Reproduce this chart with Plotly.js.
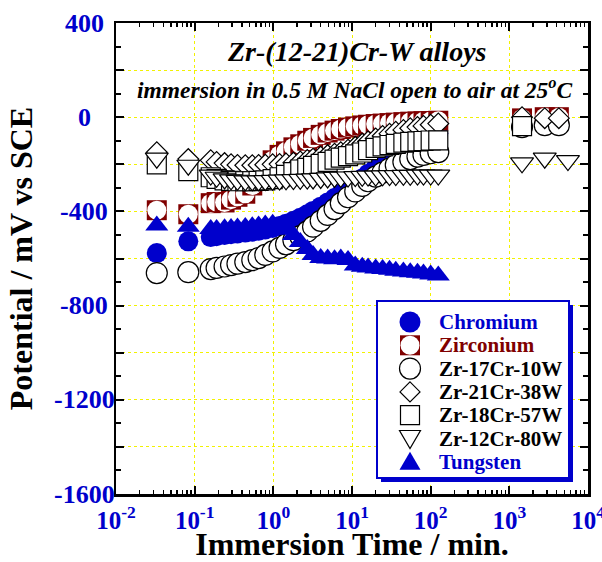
<!DOCTYPE html>
<html>
<head>
<meta charset="utf-8">
<script src="https://cdn.plot.ly/plotly-3.0.1.min.js"></script>
<style>html,body{margin:0;padding:0;background:#fff;}#chart{width:602px;height:562px;}</style>
</head>
<body>
<div id="chart"></div>
<script>
// ---------- data (time in min, potential in mV vs SCE) ----------
var timeMain = [0.033, 0.083, 0.16, 0.19, 0.24, 0.29, 0.35, 0.44, 0.54, 0.65, 0.79, 0.98, 1.2, 1.45, 1.8, 2.2, 2.7, 3.2, 4.0, 4.9, 6.0, 7.2, 8.9, 11, 13.5, 16, 20, 24.5, 30, 36, 45, 55, 68, 81, 100, 125];

var chromium = [-577, -527, -509, -505, -500, -497, -494, -490, -486, -482, -477, -470, -462, -452, -440, -427, -412, -398, -380, -362, -343, -325, -305, -283, -260, -240, -215, -192, -170, -152, -132, -116, -100, -90, -78, -68];

var zirconium = [-395, -412, -365, -360, -362, -350, -338, -325, -290, -250, -215, -183, -160, -145, -128, -115, -100, -88, -75, -65, -57, -50, -44, -39, -35, -32, -29, -27, -25, -23, -21, -19, -18, -17, -16, -15];

var zr17cr10w = [-662, -658, -645, -640, -634, -628, -622, -615, -607, -598, -585, -570, -555, -540, -522, -505, -485, -465, -440, -415, -390, -365, -340, -315, -292, -272, -252, -235, -218, -203, -190, -178, -167, -160, -153, -148];

var zr21cr38w = [-149, -178, -183, -190, -195, -200, -203, -204, -204, -203, -202, -200, -199, -197, -193, -188, -182, -176, -168, -161, -155, -149, -138, -126, -113, -103, -90, -80, -70, -62, -54, -47, -42, -37, -32, -27];

var zr18cr57w = [-200, -229, -255, -262, -268, -270, -272, -272, -272, -270, -268, -263, -255, -245, -233, -222, -215, -207, -198, -190, -180, -172, -165, -158, -150, -140, -130, -124, -118, -113, -108, -105, -103, -101, -99, -98];

var zr12cr80w = [-174, -204, -246, -255, -262, -266, -268, -270, -270, -270, -269, -268, -267, -266, -265, -264, -263, -262, -260, -258, -256, -255, -254, -252, -251, -250, -250, -249, -248, -248, -247, -247, -246, -246, -246, -246];

var tungsten = [-460, -465, -475, -475, -472, -470, -468, -466, -463, -460, -456, -452, -462, -478, -500, -530, -560, -585, -598, -600, -603, -600, -606, -630, -635, -638, -642, -645, -648, -652, -655, -658, -660, -664, -668, -672];

// long-time readings
var timeLate = [1450, 2820, 4260];
var zirconiumLate = [-5, 0, 0];
var zr21cr38wLate = [0, -4, -4];
var zr17cr10wLate = [-42, -34, -34];
var timeLate57 = [1450];
var zr18cr57wLate = [-38];
var timeLate80 = [1450, 2820, 5560];
var zr12cr80wLate = [-194, -174, -184];

// tick labels
var xTickVals = [0.01, 0.1, 1, 10, 100, 1000, 10000];
var xTickText = ['10<sup>-2</sup>', '10<sup>-1</sup>', '10<sup>0</sup>', '10<sup>1</sup>', '10<sup>2</sup>', '10<sup>3</sup>', '10<sup>4</sup>'];
var yTickVals = [-1600, -1200, -800, -400, 0, 400];
var yTickText = ['-1600', '-1200', '-800', '-400', '0', '400'];

var legendNames = ['Chromium', 'Zirconium', 'Zr-17Cr-10W', 'Zr-21Cr-38W', 'Zr-18Cr-57W', 'Zr-12Cr-80W', 'Tungsten'];

// ---------- styles ----------
var BLUE = '#0000CC';
var DRED = '#800000';
var FONT = 'Liberation Serif, Times New Roman, serif';
var OUT = {color: '#000', width: 1.2};
var GRID = '#f2f200';

// Zirconium symbol = dark-red square with a white disc inside; drawn point by point
var zrT = timeMain.concat(timeLate), zrV = zirconium.concat(zirconiumLate);
var zrX = [], zrY = [], zrSym = [], zrCol = [], zrSize = [];
zrT.forEach(function (t, j) {
  zrX.push(t, t); zrY.push(zrV[j], zrV[j]);
  zrSym.push('square', 'circle'); zrCol.push(DRED, '#fff'); zrSize.push(20, 19);
});

var traces = [
  {x: timeMain, y: chromium, mode: 'markers', name: legendNames[0],
   marker: {symbol: 'circle', size: 20, color: BLUE, line: {width: 0}}},
  {x: zrX, y: zrY, mode: 'markers', name: legendNames[1],
   marker: {symbol: zrSym, size: zrSize, color: zrCol, opacity: 1, line: {width: 0}}},
  {x: timeMain.concat(timeLate), y: zr17cr10w.concat(zr17cr10wLate), mode: 'markers', name: legendNames[2],
   marker: {symbol: 'circle', size: 21, color: '#fff', line: OUT}},
  {x: timeMain.concat(timeLate), y: zr21cr38w.concat(zr21cr38wLate), mode: 'markers', name: legendNames[3],
   marker: {symbol: 'diamond', size: 16, color: '#fff', line: OUT}},
  {x: timeMain.concat(timeLate57), y: zr18cr57w.concat(zr18cr57wLate), mode: 'markers', name: legendNames[4],
   marker: {symbol: 'square', size: 19, color: '#fff', line: OUT}},
  {x: timeMain.concat(timeLate80), y: zr12cr80w.concat(zr12cr80wLate), mode: 'markers', name: legendNames[5],
   marker: {symbol: 'triangle-down', size: 20, color: '#fff', line: OUT}},
  {x: timeMain, y: tungsten, mode: 'markers', name: legendNames[6],
   marker: {symbol: 'triangle-up', size: 20, color: BLUE, line: {width: 0}}}
];
traces.forEach(function (t) { t.type = 'scatter'; t.showlegend = false; t.hoverinfo = 'skip'; t.marker.opacity = 1; });

// ---------- hand-drawn legend box (paper coordinates) ----------
var L = 116, R = 588, T = 23, B = 494;
function px(p) { return (p - L) / (R - L); }
function py(p) { return (B - p) / (B - T); }

var shapes = [
  {type: 'rect', xref: 'paper', yref: 'paper', x0: px(381), x1: px(573), y0: py(305), y1: py(482),
   fillcolor: BLUE, line: {width: 0}},
  {type: 'rect', xref: 'paper', yref: 'paper', x0: px(377), x1: px(569), y0: py(301), y1: py(478),
   fillcolor: '#fff', line: {color: BLUE, width: 2}}
];
var annotations = [];
var legendTextColors = [BLUE, DRED, '#000', '#000', '#000', '#000', BLUE];
function sym(ax, ay, type, extra) {
  var s = {type: type, xref: 'paper', yref: 'paper', xsizemode: 'pixel', ysizemode: 'pixel',
           xanchor: ax, yanchor: ay};
  for (var k in extra) s[k] = extra[k];
  return s;
}
for (var i = 0; i < legendNames.length; i++) {
  var ry = 322 + i * 23.3;
  var ax = px(410), ay = py(ry);
  if (i === 0) shapes.push(sym(ax, ay, 'circle', {x0: -10.5, x1: 10.5, y0: -10.5, y1: 10.5, fillcolor: BLUE, line: {width: 0}}));
  if (i === 1) {
    shapes.push(sym(ax, ay, 'rect', {x0: -10, x1: 10, y0: -10, y1: 10, fillcolor: DRED, line: {width: 0}}));
    shapes.push(sym(ax, ay, 'circle', {x0: -9.5, x1: 9.5, y0: -9.5, y1: 9.5, fillcolor: '#fff', line: {width: 0}}));
  }
  if (i === 2) shapes.push(sym(ax, ay, 'circle', {x0: -10.5, x1: 10.5, y0: -10.5, y1: 10.5, fillcolor: '#fff', line: OUT}));
  if (i === 3) shapes.push(sym(ax, ay, 'path', {path: 'M0,10 L10,0 L0,-10 L-10,0 Z', fillcolor: '#fff', line: OUT}));
  if (i === 4) shapes.push(sym(ax, ay, 'rect', {x0: -9.5, x1: 9.5, y0: -9.5, y1: 9.5, fillcolor: '#fff', line: OUT}));
  if (i === 5) shapes.push(sym(ax, ay, 'path', {path: 'M-10.5,8 L10.5,8 L0,-10 Z', fillcolor: '#fff', line: OUT}));
  if (i === 6) shapes.push(sym(ax, ay, 'path', {path: 'M-10.5,-8 L10.5,-8 L0,10 Z', fillcolor: BLUE, line: {width: 0}}));
  annotations.push({xref: 'paper', yref: 'paper', x: px(437), y: ay, xanchor: 'left', yanchor: 'middle',
    text: '<b>' + legendNames[i] + '</b>', showarrow: false,
    font: {family: FONT, size: 21, color: legendTextColors[i]}});
}

annotations.push({xref: 'paper', yref: 'paper', x: px(357), y: py(52), xanchor: 'center', yanchor: 'middle',
  text: '<b><i>Zr-(12-21)Cr-W alloys</i></b>', showarrow: false,
  font: {family: FONT, size: 28, color: '#000'}});
annotations.push({xref: 'paper', yref: 'paper', x: px(355), y: py(88), xanchor: 'center', yanchor: 'middle',
  text: '<b><i>immersion in 0.5 M NaCl open to air at 25<sup>o</sup>C</i></b>', showarrow: false,
  font: {family: FONT, size: 23.5, color: '#000'}});

// y tick labels, centred in the left margin as in the reference
yTickVals.forEach(function (v, j) {
  annotations.push({xref: 'paper', yref: 'y', x: px(84), y: v, xanchor: 'center', yanchor: 'middle',
    text: '<b>' + yTickText[j] + '</b>', showarrow: false,
    font: {family: FONT, size: 26, color: BLUE}});
});

// minor log ticks 2..9 in each decade
var minorX = [];
[0.01, 0.1, 1, 10, 100, 1000].forEach(function (d) { for (var k = 2; k <= 9; k++) minorX.push(d * k); });

var layout = {
  width: 602, height: 562,
  margin: {l: L, r: 602 - R, t: T, b: 562 - B, pad: 0},
  paper_bgcolor: '#fff', plot_bgcolor: '#fff',
  showlegend: false,
  font: {family: FONT, color: '#000'},
  xaxis: {
    type: 'log', range: [-2, 4], tickmode: 'array', tickvals: xTickVals, ticktext: xTickText,
    ticks: 'inside', ticklen: 8, tickwidth: 2, tickcolor: '#000',
    showline: true, linewidth: 2.5, linecolor: '#000', mirror: 'allticks',
    showgrid: true, gridcolor: GRID, griddash: 'dot', gridwidth: 1, zeroline: false,
    tickfont: {family: FONT, size: 25, weight: 'bold', color: BLUE},
    ticklabelstandoff: 2, ticklabeloverflow: 'allow',
    minor: {tickmode: 'array', tickvals: minorX, ticks: 'inside', ticklen: 4, tickwidth: 1.5, tickcolor: '#000', showgrid: false},
    title: {text: '<b>Immersion Time / min.</b>', font: {family: FONT, size: 32, color: '#000'}, standoff: 4}
  },
  yaxis: {
    range: [-1600, 400], tickmode: 'linear', tick0: -1600, dtick: 200, showticklabels: false,
    ticks: 'inside', ticklen: 8, tickwidth: 2, tickcolor: '#000',
    showline: true, linewidth: 2.5, linecolor: '#000', mirror: 'allticks',
    showgrid: true, gridcolor: GRID, griddash: 'dot', gridwidth: 1, zeroline: false,
    minor: {dtick: 100, ticks: 'inside', ticklen: 5, tickwidth: 2, tickcolor: '#000', showgrid: false},
    title: {text: '<b>Potential / mV vs SCE</b>', font: {family: FONT, size: 32, color: '#000'}, standoff: 72}
  },
  shapes: shapes,
  annotations: annotations
};

Plotly.newPlot('chart', traces, layout, {staticPlot: true, displayModeBar: false});
</script>
</body>
</html>
